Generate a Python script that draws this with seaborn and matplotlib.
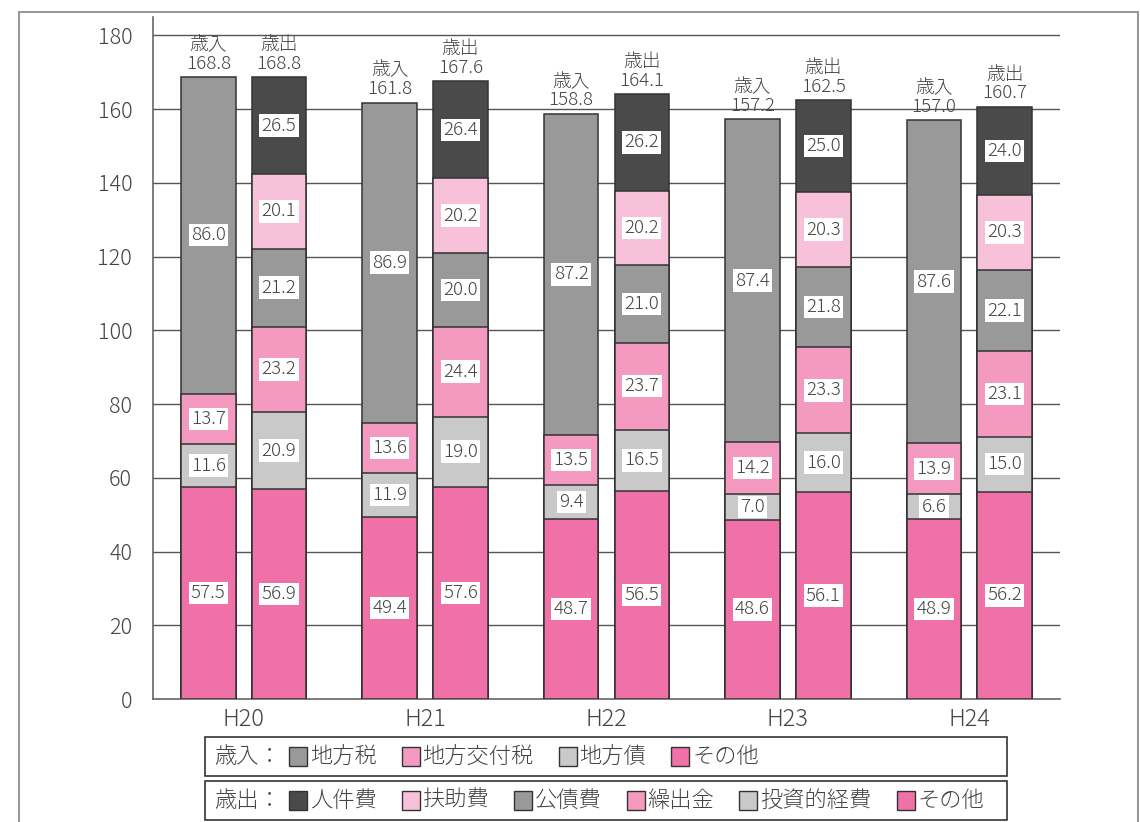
import numpy as np
import pandas as pd
import matplotlib
matplotlib.use('Agg')
import matplotlib.pyplot as plt
import seaborn as sns
from matplotlib.patches import Rectangle
from matplotlib.offsetbox import HPacker, TextArea, DrawingArea, AnchoredOffsetbox

years = ['H20', 'H21', 'H22', 'H23', 'H24']
kinds = ['歳入', '歳出']

# 歳入 (bottom -> top)
rev_names = ['その他', '地方債', '地方交付税', '地方税']
rev_other = [57.5, 49.4, 48.7, 48.6, 48.9]
rev_bond = [11.6, 11.9, 9.4, 7.0, 6.6]
rev_grant = [13.7, 13.6, 13.5, 14.2, 13.9]
rev_tax = [86.0, 86.9, 87.2, 87.4, 87.6]
rev_total = [168.8, 161.8, 158.8, 157.2, 157.0]

# 歳出 (bottom -> top)
exp_names = ['その他', '投資的経費', '繰出金', '公債費', '扶助費', '人件費']
exp_other = [56.9, 57.6, 56.5, 56.1, 56.2]
exp_invest = [20.9, 19.0, 16.5, 16.0, 15.0]
exp_transfer = [23.2, 24.4, 23.7, 23.3, 23.1]
exp_debt = [21.2, 20.0, 21.0, 21.8, 22.1]
exp_welfare = [20.1, 20.2, 20.2, 20.3, 20.3]
exp_staff = [26.5, 26.4, 26.2, 25.0, 24.0]
exp_total = [168.8, 167.6, 164.1, 162.5, 160.7]

# legend order as in the picture
rev_legend = ['地方税', '地方交付税', '地方債', 'その他']
exp_legend = ['人件費', '扶助費', '公債費', '繰出金', '投資的経費', 'その他']

DARK = '#4a4a4a'
GRAY = '#999999'
LIGHT = '#c9c9c9'
PINK = '#f070a8'
PINK2 = '#f49ac1'
PINK3 = '#f7c1da'
TXT = '#444444'
EDGE = '#333333'

rev_colors = {'その他': PINK, '地方債': LIGHT, '地方交付税': PINK2, '地方税': GRAY}
exp_colors = {'その他': PINK, '投資的経費': LIGHT, '繰出金': PINK2, '公債費': GRAY,
              '扶助費': PINK3, '人件費': DARK}

rows = []
for name, vals in zip(rev_names, [rev_other, rev_bond, rev_grant, rev_tax]):
    for y, v in zip(years, vals):
        rows.append(('歳入', name, y, v))
for name, vals in zip(exp_names, [exp_other, exp_invest, exp_transfer, exp_debt, exp_welfare, exp_staff]):
    for y, v in zip(years, vals):
        rows.append(('歳出', name, y, v))
df = pd.DataFrame(rows, columns=['kind', 'item', 'year', 'value'])
df['top'] = df.groupby(['kind', 'year'])['value'].cumsum()
df['bottom'] = df['top'] - df['value']

sns.set_style('white')
plt.rcParams['font.family'] = ['Noto Sans CJK JP', 'DejaVu Sans']
plt.rcParams['font.weight'] = 'light'

fig = plt.figure(figsize=(11.4, 8.22), dpi=100)
ax = fig.add_axes([153 / 1140, 1 - 699 / 822, (1060 - 153) / 1140, (699 - 17) / 822])

WIDTH = 0.78
OFF = WIDTH / 4

# stacked bars: draw tallest cumulative first, then overlay lower ones
for kind, names, colors in [('歳入', rev_names, rev_colors), ('歳出', exp_names, exp_colors)]:
    for name in names[::-1]:
        sub = df[(df['kind'] == kind) & (df['item'] == name)]
        sns.barplot(data=sub, x='year', y='top', hue='kind', hue_order=kinds, order=years,
                    palette={k: colors[name] for k in kinds}, saturation=1, dodge=True,
                    width=WIDTH, gap=0.23, edgecolor=EDGE, linewidth=1.1, legend=False,
                    ax=ax, zorder=3)

# value labels inside segments
for _, r in df.iterrows():
    i = years.index(r['year'])
    x = i - OFF if r['kind'] == '歳入' else i + OFF
    ax.text(x, r['bottom'] + r['value'] / 2, f"{r['value']:.1f}", ha='center', va='center',
            fontsize=13.5, color=TXT, zorder=5,
            bbox=dict(boxstyle='square,pad=0.12', fc='white', ec='none'))

# totals above bars
for i, (rt, et) in enumerate(zip(rev_total, exp_total)):
    ax.annotate(f'歳入\n{rt:.1f}', xy=(i - OFF, rt), xytext=(0, 3), textcoords='offset points',
                ha='center', va='bottom', fontsize=13.5, color=TXT, linespacing=1.05, zorder=5)
    ax.annotate(f'歳出\n{et:.1f}', xy=(i + OFF, et), xytext=(0, 3), textcoords='offset points',
                ha='center', va='bottom', fontsize=13.5, color=TXT, linespacing=1.05, zorder=5)

ax.set_xlim(-0.5, len(years) - 0.5)
ax.set_ylim(0, 185)
ax.set_yticks(np.arange(0, 181, 20))
ax.set_xticks(range(len(years)))
ax.set_xticklabels(years)
ax.set_xticks(np.arange(0.5, len(years), 1), minor=True)
ax.set_xlabel('')
ax.set_ylabel('')
for yv in np.arange(20, 181, 20):
    ax.axhline(yv, color='#555555', lw=1.0, zorder=1)
ax.tick_params(axis='y', direction='in', length=5, color='#666666', labelsize=15.5,
               labelcolor=TXT, pad=15)
ax.tick_params(axis='x', which='major', length=0, labelsize=17, labelcolor=TXT, pad=6)
ax.tick_params(axis='x', which='minor', direction='in', length=8, color='#666666')
for s in ['top', 'right']:
    ax.spines[s].set_visible(False)
for s in ['left', 'bottom']:
    ax.spines[s].set_color('#666666')
    ax.spines[s].set_linewidth(1.2)

# outer frame
fig.add_artist(Rectangle((19 / 1140, -0.02), (1138 - 19) / 1140, 1.02 - 12 / 822,
                         transform=fig.transFigure, fill=False, ec='#999999', lw=1.5))


def legend_row(title, labels, colors, ytop, ybot):
    fig.add_artist(Rectangle((205 / 1140, 1 - ybot / 822), (1007 - 205) / 1140, (ybot - ytop) / 822,
                             transform=fig.transFigure, fill=False, ec=EDGE, lw=1.2))
    props = dict(fontsize=16, color=TXT)
    entries = []
    for lab in labels:
        da = DrawingArea(13, 13, 0, 0)
        da.add_artist(Rectangle((0, 0), 13, 13, fc=colors[lab], ec=EDGE, lw=1.0))
        entries.append(HPacker(children=[da, TextArea(lab, textprops=props)],
                               align='center', pad=0, sep=2))
    body = HPacker(children=entries, align='center', pad=0, sep=18)
    box = HPacker(children=[TextArea(title, textprops=props), body], align='center', pad=0, sep=6)
    anc = AnchoredOffsetbox(loc='center left', child=box, frameon=False, pad=0, borderpad=0,
                            bbox_to_anchor=(214 / 1140, 1 - (ytop + ybot) / 2 / 822),
                            bbox_transform=fig.transFigure)
    fig.add_artist(anc)


legend_row('歳入：', rev_legend, rev_colors, 737, 776)
legend_row('歳出：', exp_legend, exp_colors, 781, 820)

plt.savefig('out.png', dpi=100, facecolor='white')
